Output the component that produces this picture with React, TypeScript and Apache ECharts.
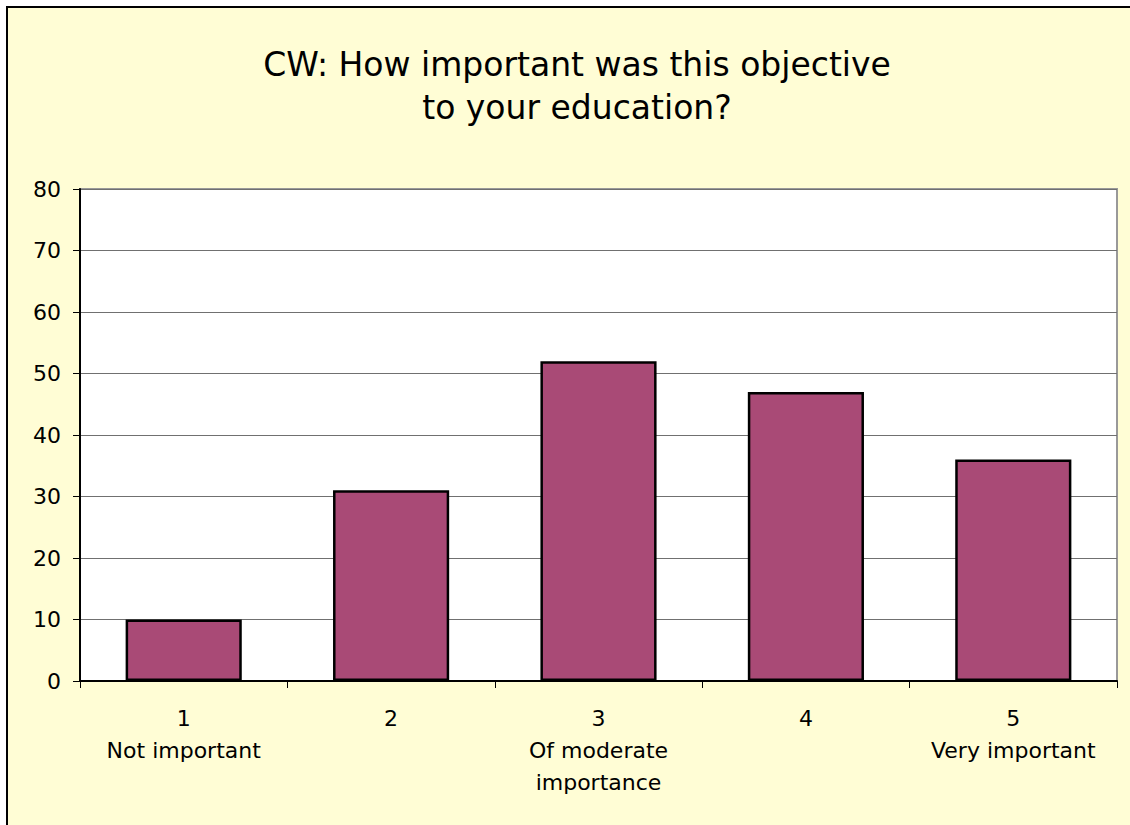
import React, { useEffect, useRef } from "react";
import * as echarts from "echarts";

const titleText = "CW: How important was this objective\nto your education?";
const categories = ["1\nNot important", "2", "3\nOf moderate\nimportance", "4", "5\nVery important"];
const values = [10, 31, 52, 47, 36];
const yMin = 0;
const yMax = 80;
const yInterval = 10;

export default function App() {
  const ref = useRef<HTMLDivElement>(null);
  useEffect(() => {
    if (!ref.current) return;
    const chart = echarts.init(ref.current, null, { renderer: "svg" });
    const font = "'DejaVu Sans', Verdana, sans-serif";
    chart.setOption({
      animation: false,
      backgroundColor: "#ffffff",
      graphic: [
        {
          type: "rect",
          z: -10,
          silent: true,
          shape: { x: 7, y: 7, width: 1200, height: 900 },
          style: { fill: "#FFFDD5", stroke: "#000000", lineWidth: 2 },
        },
      ],
      title: {
        text: titleText,
        left: 572,
        top: 38,
        textAlign: "center",
        textStyle: {
          fontFamily: font,
          fontSize: 33,
          fontWeight: "normal",
          color: "#000000",
          lineHeight: 43,
        },
      },
      grid: {
        left: 80,
        top: 189,
        width: 1037,
        height: 492,
        show: true,
        backgroundColor: "#ffffff",
        borderColor: "#999999",
        borderWidth: 2,
      },
      xAxis: {
        type: "category",
        data: categories,
        boundaryGap: true,
        axisLine: { show: true, lineStyle: { color: "#000000", width: 2 } },
        axisTick: { show: true, alignWithLabel: false, length: 7, lineStyle: { color: "#000000", width: 1 } },
        axisLabel: {
          fontFamily: font,
          fontSize: 22,
          color: "#000000",
          lineHeight: 32,
          margin: 21,
          interval: 0,
        },
      },
      yAxis: {
        type: "value",
        min: yMin,
        max: yMax,
        interval: yInterval,
        axisLine: { show: true, lineStyle: { color: "#000000", width: 2 } },
        axisTick: { show: true, length: 7, lineStyle: { color: "#000000", width: 1 } },
        splitLine: { show: true, lineStyle: { color: "#707070", width: 1 } },
        axisLabel: {
          fontFamily: font,
          fontSize: 22,
          color: "#000000",
          margin: 19,
        },
      },
      series: [
        {
          type: "bar",
          data: values,
          barWidth: "56%",
          itemStyle: { color: "#A94A76", borderColor: "#000000", borderWidth: 2.5 },
        },
      ],
    });
    return () => chart.dispose();
  }, []);
  return (
    <div style={{ position: "fixed", left: 0, top: 0, width: 1130, height: 825, overflow: "hidden" }}>
      <div ref={ref} style={{ width: 1130, height: 825 }} />
    </div>
  );
}
